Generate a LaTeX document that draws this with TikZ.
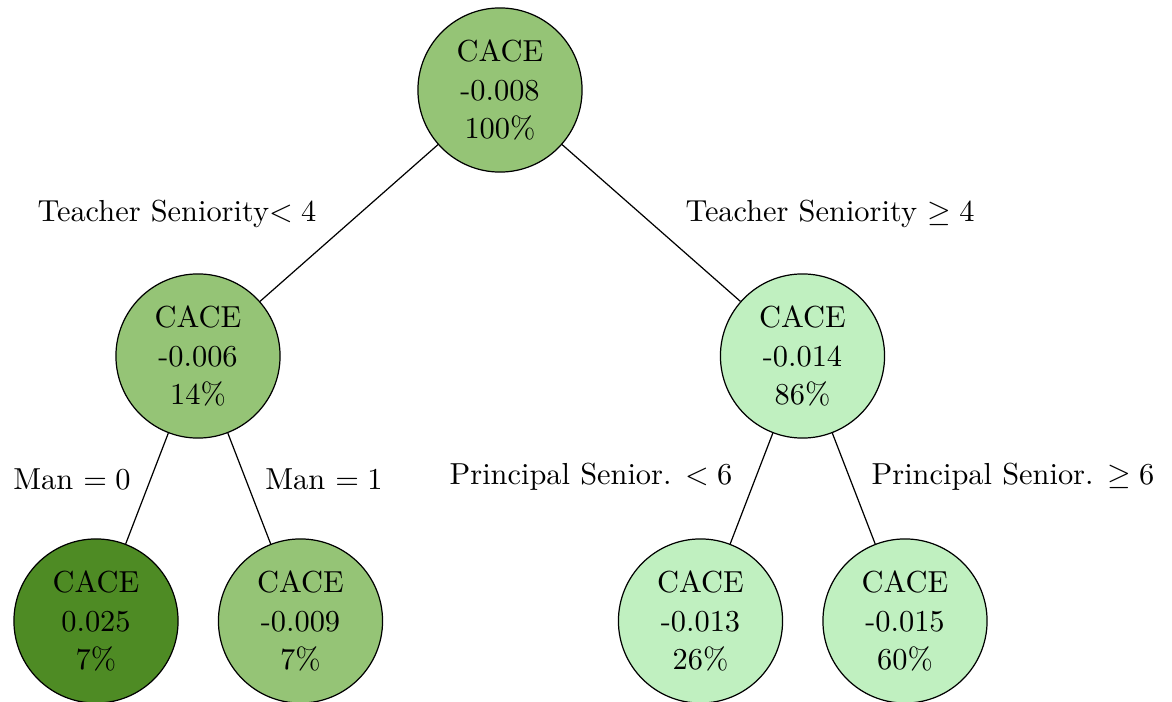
\documentclass[tikz,border=0pt]{standalone}
\usepackage{amssymb}
\definecolor{midgreen}{RGB}{149,196,118}
\definecolor{darkgreen}{RGB}{78,139,36}
\definecolor{lightgreen}{RGB}{192,240,192}
\begin{document}
\begin{tikzpicture}[x=0.329pt, y=-0.329pt,
  treenode/.style={circle, draw=black, line width=0.4pt, minimum size=54pt, inner sep=0pt,
    align=center, font=\fontsize{10}{12.8}\selectfont},
  lbl/.style={anchor=base, inner sep=0pt, font=\fontsize{10}{12}\selectfont},
  edge/.style={draw=black, line width=0.4pt}]
\useasboundingbox (0,0) rectangle (1172,702);
\node[treenode, fill=midgreen] (root) at (500,90) {CACE\\-0.008\\100\%};
\node[treenode, fill=midgreen] (l) at (198,356) {CACE\\-0.006\\14\%};
\node[treenode, fill=lightgreen] (r) at (802.5,356) {CACE\\-0.014\\86\%};
\node[treenode, fill=darkgreen] (ll) at (96,621) {CACE\\0.025\\7\%};
\node[treenode, fill=midgreen] (lr) at (300.5,621) {CACE\\-0.009\\7\%};
\node[treenode, fill=lightgreen] (rl) at (700.5,621) {CACE\\-0.013\\26\%};
\node[treenode, fill=lightgreen] (rr) at (905,621) {CACE\\-0.015\\60\%};
\draw[edge] (root) -- (l);
\draw[edge] (root) -- (r);
\draw[edge] (l) -- (ll);
\draw[edge] (l) -- (lr);
\draw[edge] (r) -- (rl);
\draw[edge] (r) -- (rr);
\node[lbl] (t1) at (177,221.5) {Teacher Seniority$< 4$};
\node[lbl] (t2) at (830,221.5) {Teacher Seniority $\geq 4$};
\node[lbl] (m0) at (72,489) {Man $= 0$};
\node[lbl] (m1) at (324,489) {Man $= 1$};
\node[lbl] (p1) at (591,484) {Principal Senior. $< 6$};
\node[lbl] (p2) at (1013,484) {Principal Senior. $\geq 6$};
\end{tikzpicture}
\end{document}
